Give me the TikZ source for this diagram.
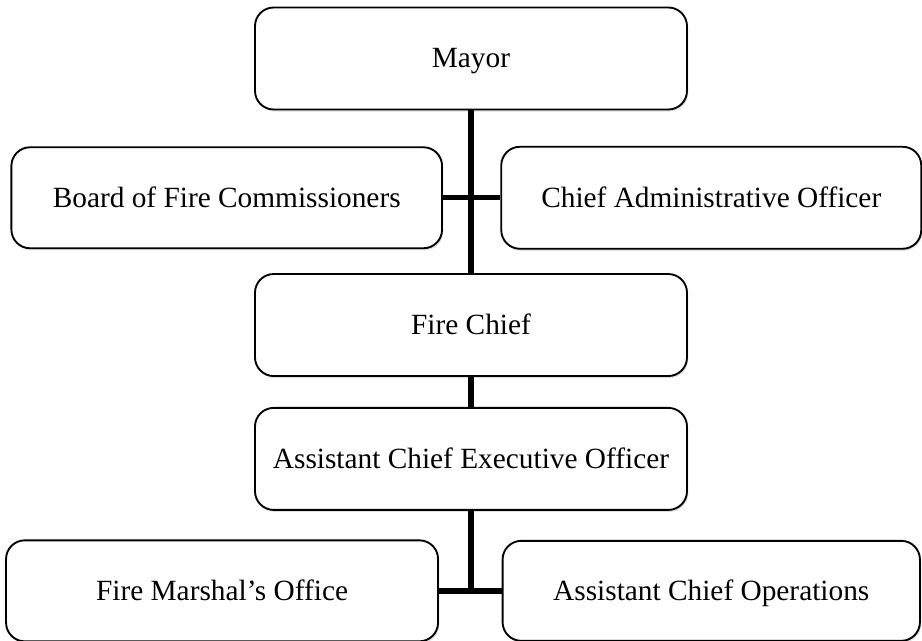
\documentclass[tikz,border=0pt]{standalone}
\usepackage{fontspec}
\setmainfont{Liberation Serif}
\usepackage{tikz}
\usetikzlibrary{positioning, shadows}

\begin{document}
\begin{tikzpicture}

\tikzstyle{block}=[rectangle,draw,line width=1.4pt,rounded corners=14pt,fill=white,minimum width=324pt,minimum height=76.5pt,inner sep=0pt,text height=17pt,text depth=3pt,font=\fontsize{22}{26}\selectfont,drop shadow={shadow xshift=1pt,shadow yshift=-1.5pt,opacity=0.25}]
\tikzstyle{line}=[draw, line width=4pt]

\useasboundingbox (-353.25pt,43.875pt) rectangle (338.25pt,-436.125pt);

\node (mayor) [block] at (0,0) {Mayor};
\node (chief) [block,below=122pt of mayor] {Fire Chief};
\node (aceo) [block,below=22.5pt of chief] {Assistant Chief Executive Officer};

\coordinate [below=65.5pt of mayor] (split1);
\coordinate [below=60pt of aceo] (split2);

\node (board) [block,minimum width=323pt,minimum height=75.75pt,left=21pt of split1] {Board of Fire Commissioners};
\node (cao) [block,minimum width=315pt,right=22pt of split1] {Chief Administrative Officer};

\node (marshal) [block,minimum width=324pt,minimum height=75.75pt,left=24pt of split2] {Fire Marshal’s Office};
\node (ops) [block,minimum width=313pt,minimum height=75pt,right=23pt of split2] {Assistant Chief Operations};

% Connections
\draw[line] (mayor) -- (chief);
\draw[line] (board) -- (cao);
\draw[line] (chief) -- (aceo);
\draw[line] (aceo) -- (split2);
\draw[line] (marshal) -- (ops);

\end{tikzpicture}
\end{document}
